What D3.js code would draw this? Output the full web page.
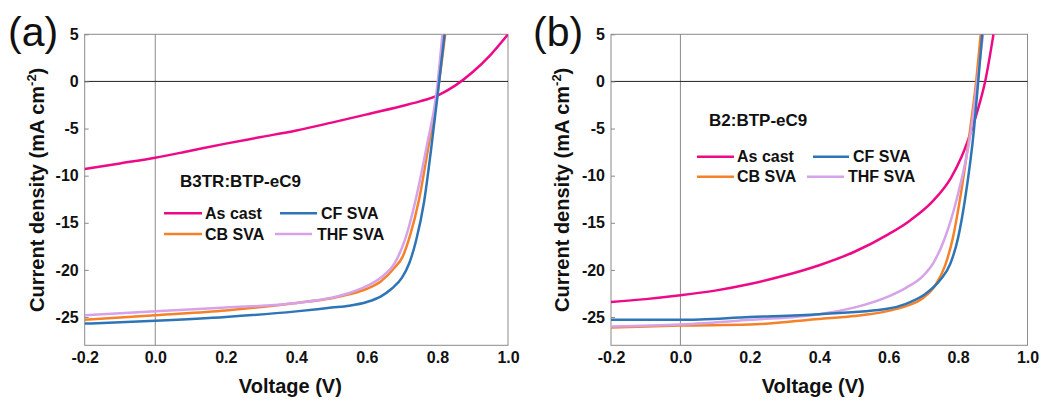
<!DOCTYPE html>
<html>
<head>
<meta charset="utf-8">
<script src="https://cdn.jsdelivr.net/npm/d3@7"></script>
<style>
  html, body { margin: 0; padding: 0; background: #fff; }
  svg { display: block; font-family: "Liberation Sans", Arial, sans-serif; }
</style>
</head>
<body>
<svg id="chart" width="1051" height="403"></svg>
<script>
// ---------- data ----------
const xTicks = [-0.2, 0.0, 0.2, 0.4, 0.6, 0.8, 1.0];
const yTicks = [-25, -20, -15, -10, -5, 0, 5];
const seriesNames = ["As cast", "CF SVA", "CB SVA", "THF SVA"];
const seriesColors = ["#EE0A87", "#2E75B6", "#F5822A", "#D6A2E8"];
const panelTitles = ["B3TR:BTP-eC9", "B2:BTP-eC9"];
const panelLetters = ["(a)", "(b)"];

// panel (a) B3TR:BTP-eC9
const aAsCastV = [-0.2, -0.1, 0.0, 0.1, 0.2, 0.3, 0.4, 0.5, 0.6, 0.7, 0.75, 0.8, 0.85, 0.9, 0.95, 1.0];
const aAsCastJ = [-9.3, -8.7, -8.1, -7.35, -6.6, -5.9, -5.2, -4.37, -3.5, -2.6, -2.12, -1.5, -0.45, 1.0, 2.8, 5.0];
const aCFV = [-0.2, 0.0, 0.2, 0.4, 0.5, 0.55, 0.6, 0.64, 0.67, 0.7, 0.72, 0.74, 0.762, 0.782, 0.8, 0.82];
const aCFJ = [-25.7, -25.4, -25.0, -24.4, -24.0, -23.8, -23.4, -22.8, -22.0, -20.8, -19.3, -16.8, -12.8, -7.2, -1.6, 5.0];
const aCBV = [-0.2, 0.0, 0.2, 0.4, 0.5, 0.55, 0.6, 0.64, 0.68, 0.7, 0.722, 0.748, 0.775, 0.8, 0.822];
const aCBJ = [-25.3, -24.8, -24.3, -23.5, -23.0, -22.6, -22.0, -21.2, -19.7, -18.7, -16.4, -12.5, -6.8, -1.3, 5.0];
const aTHFV = [-0.2, 0.0, 0.2, 0.4, 0.5, 0.55, 0.6, 0.64, 0.68, 0.707, 0.738, 0.77, 0.797, 0.814];
const aTHFJ = [-24.8, -24.4, -24.0, -23.5, -22.95, -22.45, -21.7, -20.8, -19.2, -16.9, -12.6, -6.8, -1.3, 5.0];

// panel (b) B2:BTP-eC9
const bAsCastV = [-0.2, -0.1, 0.0, 0.1, 0.2, 0.3, 0.4, 0.5, 0.6, 0.66, 0.73, 0.78, 0.81, 0.84, 0.86, 0.878, 0.902];
const bAsCastJ = [-23.4, -23.1, -22.7, -22.2, -21.5, -20.6, -19.5, -18.1, -16.2, -14.8, -12.6, -10.2, -8.0, -5.0, -2.6, 0.0, 5.0];
const bCFV = [-0.2, 0.0, 0.2, 0.4, 0.6, 0.65, 0.7, 0.75, 0.777, 0.8, 0.82, 0.846, 0.858, 0.87];
const bCFJ = [-25.3, -25.3, -25.0, -24.7, -24.1, -23.6, -22.7, -21.0, -19.4, -16.6, -12.5, -5.0, 0.0, 5.2];
const bCBV = [-0.2, 0.0, 0.2, 0.4, 0.5, 0.6, 0.65, 0.7, 0.735, 0.762, 0.785, 0.805, 0.835, 0.852, 0.865];
const bCBJ = [-26.1, -25.9, -25.8, -25.2, -24.9, -24.35, -23.85, -22.95, -21.6, -19.6, -16.6, -12.6, -5.0, 0.0, 5.0];
const bTHFV = [-0.2, 0.0, 0.2, 0.4, 0.5, 0.6, 0.65, 0.7, 0.728, 0.76, 0.796, 0.838, 0.855, 0.872];
const bTHFJ = [-26.0, -25.8, -25.3, -24.7, -24.0, -22.8, -21.9, -20.6, -19.3, -16.8, -12.5, -5.0, 0.0, 5.0];

const panelSeries = [
  [[aAsCastV, aAsCastJ], [aCFV, aCFJ], [aCBV, aCBJ], [aTHFV, aTHFJ]],
  [[bAsCastV, bAsCastJ], [bCFV, bCFJ], [bCBV, bCBJ], [bTHFV, bTHFJ]]
];

// ---------- layout ----------
const layouts = [
  { left: 84.7, right: 508, top: 34.3, bottom: 345.3,
    letterX: 8, letterSize: 41, yLabelX: 37,
    title: [180, 187], row1: 213.3, row2: 234,
    cols: [[164, 202, 205], [280, 317, 321], [164, 202, 205], [275, 312, 317]] },
  { left: 611, right: 1027.5, top: 34.3, bottom: 345.3,
    letterX: 533, letterSize: 41, yLabelX: 562,
    title: [709, 126], row1: 156.7, row2: 176.7,
    cols: [[697, 734, 737], [813, 849, 853], [697, 734, 737], [807, 844, 848]] }
];

const svg = d3.select("#chart");

layouts.forEach((L, pi) => {
  const x = d3.scaleLinear().domain([-0.2, 1.0]).range([L.left, L.right]);
  const y = d3.scaleLinear().domain([-28, 5]).range([L.bottom, L.top]);
  const g = svg.append("g");

  const clipId = "clip" + pi;
  svg.append("clipPath").attr("id", clipId).append("rect")
    .attr("x", L.left).attr("y", L.top)
    .attr("width", L.right - L.left).attr("height", L.bottom - L.top);

  // vertical line at V = 0
  g.append("line").attr("x1", x(0)).attr("x2", x(0)).attr("y1", L.top).attr("y2", L.bottom)
    .attr("stroke", "#8a8a8a").attr("stroke-width", 1);

  // frame
  g.append("rect").attr("x", L.left).attr("y", L.top)
    .attr("width", L.right - L.left).attr("height", L.bottom - L.top)
    .attr("fill", "none").attr("stroke", "#8a8a8a").attr("stroke-width", 1);

  // zero current line
  g.append("line").attr("x1", L.left).attr("x2", L.right).attr("y1", y(0)).attr("y2", y(0))
    .attr("stroke", "#222").attr("stroke-width", 1);

  // y axis (ticks inward)
  const yAxis = d3.axisRight(y).tickValues(yTicks).tickSize(4).tickFormat(d => String(d));
  const ya = g.append("g").attr("transform", `translate(${L.left},0)`).call(yAxis);
  ya.select(".domain").remove();
  ya.selectAll(".tick line").attr("stroke", "#8a8a8a");
  ya.selectAll(".tick text")
    .attr("x", -6).attr("text-anchor", "end")
    .attr("font-size", 16).attr("font-weight", "bold").attr("fill", "#111")
    .attr("font-family", "Liberation Sans, Arial, sans-serif");

  // x axis (labels only)
  const xAxis = d3.axisBottom(x).tickValues(xTicks).tickSize(0).tickFormat(d => d.toFixed(1));
  const xa = g.append("g").attr("transform", `translate(0,${L.bottom})`).call(xAxis);
  xa.select(".domain").remove();
  xa.selectAll(".tick text")
    .attr("y", 0).attr("dy", "0.71em").attr("transform", "translate(0,6)")
    .attr("font-size", 16).attr("font-weight", "bold").attr("fill", "#111")
    .attr("font-family", "Liberation Sans, Arial, sans-serif");

  // curves
  const line = d3.line().x(d => x(d[0])).y(d => y(d[1])).curve(d3.curveMonotoneX);
  const order = [0, 2, 3, 1];
  order.forEach(si => {
    const [V, J] = panelSeries[pi][si];
    const pts = V.map((v, i) => [v, J[i]]);
    g.append("path").datum(pts)
      .attr("clip-path", `url(#${clipId})`)
      .attr("d", line).attr("fill", "none")
      .attr("stroke", seriesColors[si]).attr("stroke-width", 2.5)
      .attr("stroke-linejoin", "round");
  });

  // axis titles
  g.append("text").attr("x", (L.left + L.right) / 2 - 6).attr("y", 393)
    .attr("text-anchor", "middle").attr("font-size", 20).attr("font-weight", "bold").attr("fill", "#111")
    .text("Voltage (V)");

  const yl = g.append("text")
    .attr("transform", `translate(${L.yLabelX},${(L.top + L.bottom) / 2}) rotate(-90)`)
    .attr("text-anchor", "middle").attr("dy", "0.35em")
    .attr("font-size", 20).attr("font-weight", "bold").attr("fill", "#111");
  yl.append("tspan").text("Current density (mA cm");
  yl.append("tspan").attr("font-size", 13).attr("dy", -8).text("-2");
  yl.append("tspan").attr("dy", 8).text(")");

  // panel letter
  g.append("text").attr("x", L.letterX).attr("y", 46)
    .attr("font-size", L.letterSize).attr("fill", "#111").text(panelLetters[pi]);

  // annotation title
  g.append("text").attr("x", L.title[0]).attr("y", L.title[1])
    .attr("font-size", 17).attr("font-weight", "bold").attr("fill", "#111")
    .text(panelTitles[pi]);

  // legend
  seriesNames.forEach((name, si) => {
    const rowY = si < 2 ? L.row1 : L.row2;
    const c = L.cols[si];
    g.append("line").attr("x1", c[0]).attr("x2", c[1]).attr("y1", rowY).attr("y2", rowY)
      .attr("stroke", seriesColors[si]).attr("stroke-width", 2.5);
    g.append("text").attr("x", c[2]).attr("y", rowY + 5.6)
      .attr("font-size", 16).attr("font-weight", "bold").attr("fill", "#111")
      .text(name);
  });
});
</script>
</body>
</html>
